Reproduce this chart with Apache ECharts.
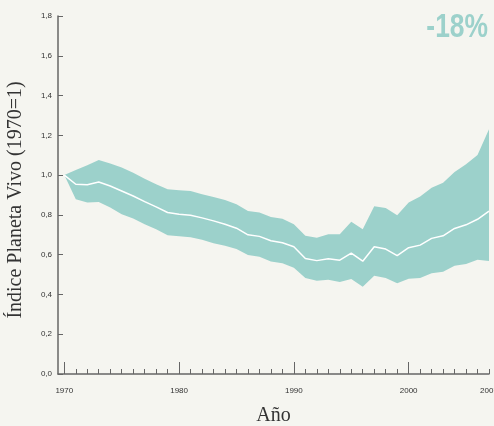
<!DOCTYPE html>
<html lang="es">
<head>
    <meta charset="utf-8" />
    <title>Índice Planeta Vivo</title>
    <script src="https://cdn.jsdelivr.net/npm/echarts@6/dist/echarts.min.js"></script>
    <style>
        html, body { margin: 0; padding: 0; background: #f5f5f0; }
        #main { width: 494px; height: 426px; }
    </style>
</head>
<body>
    <div id="main"></div>
    <script>
        // datos
        var years = [1970, 1971, 1972, 1973, 1974, 1975, 1976, 1977, 1978, 1979,
            1980, 1981, 1982, 1983, 1984, 1985, 1986, 1987, 1988, 1989,
            1990, 1991, 1992, 1993, 1994, 1995, 1996, 1997, 1998, 1999,
            2000, 2001, 2002, 2003, 2004, 2005, 2006, 2007];
        var upper = [1.00, 1.026, 1.049, 1.076, 1.059, 1.038, 1.012, 0.982, 0.954, 0.929,
            0.924, 0.920, 0.904, 0.890, 0.875, 0.854, 0.820, 0.812, 0.789, 0.780,
            0.753, 0.695, 0.685, 0.703, 0.703, 0.765, 0.728, 0.844, 0.835, 0.798,
            0.862, 0.892, 0.937, 0.962, 1.016, 1.054, 1.101, 1.230];
        var index = [1.00, 0.954, 0.952, 0.965, 0.945, 0.920, 0.895, 0.867, 0.840, 0.812,
            0.803, 0.798, 0.785, 0.770, 0.753, 0.733, 0.700, 0.692, 0.670, 0.660,
            0.640, 0.581, 0.570, 0.580, 0.572, 0.608, 0.567, 0.640, 0.628, 0.595,
            0.635, 0.648, 0.682, 0.695, 0.732, 0.750, 0.778, 0.819];
        var lower = [1.00, 0.879, 0.862, 0.865, 0.837, 0.803, 0.782, 0.753, 0.728, 0.698,
            0.692, 0.687, 0.675, 0.658, 0.645, 0.628, 0.598, 0.589, 0.566, 0.557,
            0.534, 0.483, 0.469, 0.474, 0.463, 0.478, 0.439, 0.494, 0.483, 0.456,
            0.479, 0.483, 0.506, 0.514, 0.544, 0.553, 0.574, 0.568];
        var majorYears = [1970, 1980, 1990, 2000];
        var labelYears = [1970, 1980, 1990, 2000, 2007];
        var yTicks = [0, 0.2, 0.4, 0.6, 0.8, 1.0, 1.2, 1.4, 1.6, 1.8];
        var change = '-18%';

        var teal = '#9cd1cb';
        var axisColor = '#666';

        function pairs(arr) {
            return years.map(function (y, i) { return [y, arr[i]]; });
        }

        // banda: un solo poligono (superior y luego inferior al reves)
        function renderBand(params, api) {
            if (params.dataIndex !== 0) return null;
            var pts = [];
            for (var i = 0; i < years.length; i++) pts.push(api.coord([years[i], upper[i]]));
            for (var j = years.length - 1; j >= 0; j--) pts.push(api.coord([years[j], lower[j]]));
            return {
                type: 'polygon',
                shape: { points: pts },
                style: { fill: teal, stroke: null }
            };
        }

        var myChart = echarts.init(document.getElementById('main'));
        var option = {
            backgroundColor: '#f5f5f0',
            animation: false,
            grid: { left: 58, right: 5, top: 16, bottom: 52, outerBoundsMode: 'none', containLabel: false },
            graphic: [{
                type: 'text',
                x: 488,
                y: 11,
                scaleX: 0.8,
                style: {
                    text: change,
                    font: 'bold 33px "Liberation Sans Narrow", "Liberation Sans", sans-serif',
                    fill: teal,
                    align: 'right',
                    verticalAlign: 'top'
                }
            }],
            xAxis: [{
                type: 'value',
                position: 'bottom',
                min: 1969.45,
                max: 2007,
                name: 'Año',
                nameLocation: 'middle',
                nameGap: 32,
                nameTextStyle: { fontFamily: '"Liberation Serif", serif', fontSize: 20, color: '#333' },
                axisLine: { show: true, lineStyle: { color: axisColor, width: 1.5 } },
                axisTick: { show: true, inside: true, length: 5, customValues: years, lineStyle: { color: axisColor } },
                axisLabel: {
                    customValues: labelYears,
                    fontSize: 8,
                    color: '#333',
                    fontFamily: '"Liberation Sans", Arial, sans-serif',
                    margin: 13,
                    formatter: function (v) { return String(v); }
                },
                splitLine: { show: false }
            }, {
                type: 'value',
                position: 'bottom',
                min: 1969.45,
                max: 2007,
                axisLine: { show: false },
                axisTick: { show: true, inside: true, length: 12, customValues: majorYears, lineStyle: { color: axisColor } },
                axisLabel: { show: false },
                splitLine: { show: false }
            }],
            yAxis: {
                type: 'value',
                min: 0,
                max: 1.8,
                interval: 0.2,
                name: 'Índice Planeta Vivo (1970=1)',
                nameLocation: 'middle',
                nameGap: 32,
                nameTextStyle: { fontFamily: '"Liberation Serif", serif', fontSize: 20, color: '#333', padding: [0, 10, 0, 0] },
                axisLine: { show: true, lineStyle: { color: axisColor, width: 1.5 } },
                axisTick: { show: true, inside: true, length: 5, customValues: yTicks, lineStyle: { color: axisColor } },
                axisLabel: {
                    fontSize: 8,
                    color: '#333',
                    fontFamily: '"Liberation Sans", Arial, sans-serif',
                    margin: 6,
                    formatter: function (v) { return v.toFixed(1).replace('.', ','); }
                },
                splitLine: { show: false }
            },
            series: [{
                name: 'banda',
                type: 'custom',
                xAxisIndex: 0,
                silent: true,
                renderItem: renderBand,
                encode: { x: 0, y: [1, 2] },
                data: years.map(function (y, i) { return [y, lower[i], upper[i]]; }),
                clip: false
            }, {
                name: 'IPV',
                type: 'line',
                xAxisIndex: 0,
                data: pairs(index),
                symbol: 'none',
                silent: true,
                z: 3,
                lineStyle: { color: '#ffffff', width: 1.5 }
            }]
        };
        myChart.setOption(option);
    </script>
</body>
</html>
